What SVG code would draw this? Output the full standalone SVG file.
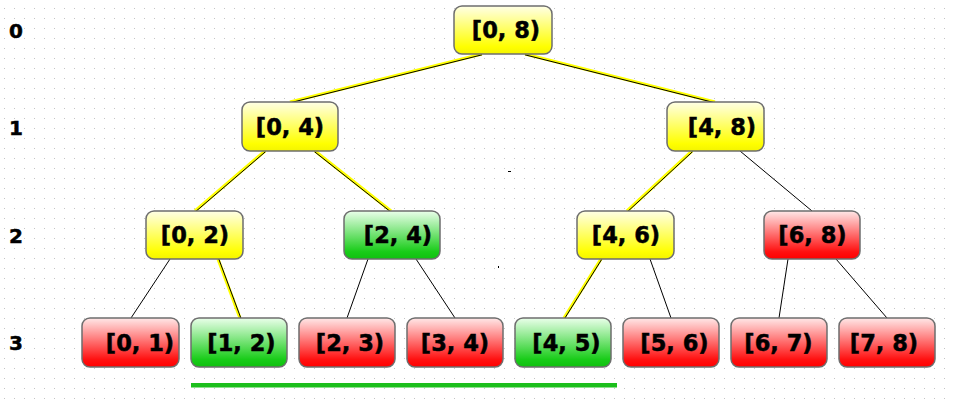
<svg xmlns="http://www.w3.org/2000/svg" width="953" height="408" viewBox="0 0 953 408">
<defs>
<pattern id="grid" x="0" y="0" width="10" height="10" patternUnits="userSpaceOnUse">
<rect x="4" y="8" width="1" height="1" fill="#c4c4c4"/>
</pattern>
<linearGradient id="gy" x1="0" y1="0" x2="0" y2="1">
<stop offset="0" stop-color="#ffffe6"/><stop offset="0.85" stop-color="#ffff00"/><stop offset="1" stop-color="#f4f400"/>
</linearGradient>
<linearGradient id="gr" x1="0" y1="0" x2="0" y2="1">
<stop offset="0" stop-color="#ffe8e8"/><stop offset="0.85" stop-color="#ff1010"/><stop offset="1" stop-color="#ff0000"/>
</linearGradient>
<linearGradient id="gg" x1="0" y1="0" x2="0" y2="1">
<stop offset="0" stop-color="#eaffea"/><stop offset="0.85" stop-color="#18cc18"/><stop offset="1" stop-color="#10c010"/>
</linearGradient>
</defs>
<style>
.box{stroke:#6e6e6e;stroke-width:1.5}
.y{fill:url(#gy)}
.r{fill:url(#gr)}
.g{fill:url(#gg)}
.t{font-family:"DejaVu Sans","Verdana",sans-serif;font-weight:bold;font-size:22.5px;fill:#000;stroke:#000;stroke-width:0.5;text-anchor:middle}
.lv{font-family:"DejaVu Sans",sans-serif;font-weight:bold;font-size:20px;fill:#000;stroke:#000;stroke-width:0.5}
.e{stroke:#000;stroke-width:1;fill:none}
.ey{stroke:#ffff00;stroke-width:3.2;fill:none}
.ek{stroke:#000;stroke-width:1;fill:none}
</style>
<rect width="953" height="408" fill="#ffffff"/>
<rect width="953" height="408" fill="url(#grid)"/>
<g id="levels">
<text class="lv" x="9" y="38">0</text>
<text class="lv" x="9" y="135">1</text>
<text class="lv" x="9" y="243">2</text>
<text class="lv" x="9" y="350">3</text>
</g>
<g id="connectors">
<g>
<path class="ey" d="M482,54 L290,102"/><path class="ek" d="M482,54.8 L290,102.8"/>
<path class="ey" d="M525,54 L715,102"/><path class="ek" d="M525,54.8 L715,102.8"/>
<path class="ey" d="M265,151 L195,211"/><path class="ek" d="M265.6,151.6 L195.6,211.6"/>
<path class="ey" d="M315,151 L391,211"/><path class="ek" d="M314.5,151.7 L390.5,211.7"/>
<path class="ey" d="M692,151 L627,211"/><path class="ek" d="M692.6,151.6 L627.6,211.6"/>
<path class="ey" d="M218,259 L240,318"/><path class="ek" d="M218.8,259 L240.8,318"/>
<path class="ey" d="M601,259 L564,318"/><path class="ek" d="M601.7,259.4 L564.7,318.4"/>
</g>
<path class="e" d="M740,151 L812,211"/>
<path class="e" d="M170,259 L131,318"/>
<path class="e" d="M368,259 L347,318"/>
<path class="e" d="M416,259 L455,318"/>
<path class="e" d="M650,259 L671,318"/>
<path class="e" d="M788,259 L779,318"/>
<path class="e" d="M836,259 L887,318"/>
</g>
<g id="n08"><rect class="box y" x="454" y="6" width="98" height="48" rx="8"/><text class="t" x="506" y="38">[0, 8)</text></g>
<g id="n04"><rect class="box y" x="242" y="102" width="96" height="49" rx="8"/><text class="t" x="290" y="134.5">[0, 4)</text></g>
<g id="n48"><rect class="box y" x="667" y="102" width="97" height="49" rx="8"/><text class="t" x="722" y="134.5">[4, 8)</text></g>
<g id="n02"><rect class="box y" x="146" y="211" width="97" height="48" rx="8"/><text class="t" x="195" y="243">[0, 2)</text></g>
<g id="n24"><rect class="box g" x="344" y="211" width="96" height="48" rx="8"/><text class="t" x="398" y="243">[2, 4)</text></g>
<g id="n46"><rect class="box y" x="577" y="211" width="97" height="48" rx="8"/><text class="t" x="626" y="243">[4, 6)</text></g>
<g id="n68"><rect class="box r" x="764" y="211" width="96" height="48" rx="8"/><text class="t" x="812.5" y="243">[6, 8)</text></g>
<g id="n01"><rect class="box r" x="82" y="318" width="97" height="49" rx="8"/><text class="t" x="140" y="351">[0, 1)</text></g>
<g id="n12"><rect class="box g" x="191" y="318" width="96" height="49" rx="8"/><text class="t" x="241.5" y="351">[1, 2)</text></g>
<g id="n23"><rect class="box r" x="299" y="318" width="96" height="49" rx="8"/><text class="t" x="350" y="351">[2, 3)</text></g>
<g id="n34"><rect class="box r" x="407" y="318" width="96" height="49" rx="8"/><text class="t" x="455" y="351">[3, 4)</text></g>
<g id="n45"><rect class="box g" x="515" y="318" width="96" height="49" rx="8"/><text class="t" x="566.5" y="351">[4, 5)</text></g>
<g id="n56"><rect class="box r" x="623" y="318" width="96" height="49" rx="8"/><text class="t" x="674.5" y="351">[5, 6)</text></g>
<g id="n67"><rect class="box r" x="731" y="318" width="96" height="49" rx="8"/><text class="t" x="778.5" y="351">[6, 7)</text></g>
<g id="n78"><rect class="box r" x="839" y="318" width="96" height="49" rx="8"/><text class="t" x="884" y="351">[7, 8)</text></g>
<rect id="range" x="191" y="383" width="426" height="4.5" fill="#1cbf1c"/>
<rect x="508" y="171" width="3" height="1" fill="#000"/>
<rect x="498" y="266" width="1" height="2" fill="#000"/>
</svg>
